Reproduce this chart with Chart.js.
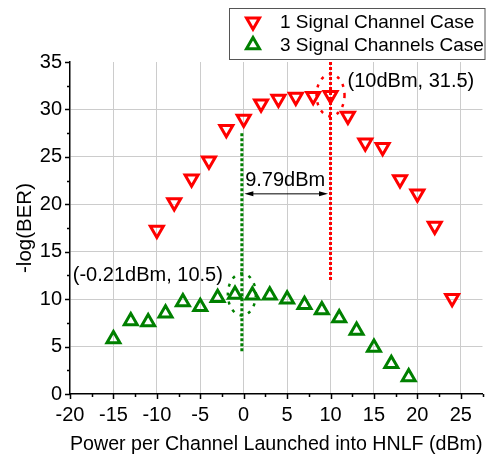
<!DOCTYPE html>
<html>
<head>
<meta charset="utf-8">
<script src="https://cdn.jsdelivr.net/npm/chart.js@4/dist/chart.umd.min.js"></script>
<style>
  html, body { margin: 0; padding: 0; background: #ffffff; }
  #wrap { width: 493px; height: 461px; }
</style>
</head>
<body>
<div id="wrap"><canvas id="ber" width="493" height="461"></canvas></div>
<script>
// Launch power per channel (dBm) and measured -log(BER)
const singlePower   = [-10, -8, -6, -4, -2, 0, 2, 4, 6, 8, 10, 12, 14, 16, 18, 20, 22, 24];
const singleLogBer  = [17.3, 20.2, 22.7, 24.6, 27.9, 29.0, 30.6, 31.1, 31.3, 31.4, 31.5, 29.3, 26.5, 26.0, 22.6, 21.1, 17.7, 10.1];
const triplePower   = [-15, -13, -11, -9, -7, -5, -3, -1, 1, 3, 5, 7, 9, 11, 13, 15, 17, 19];
const tripleLogBer  = [5.8, 7.7, 7.6, 8.5, 9.7, 9.2, 10.15, 10.5, 10.4, 10.4, 10.0, 9.4, 8.85, 8.0, 6.7, 4.9, 3.2, 1.8];
const seriesNames   = ['1 Signal Channel Case', '3 Signal Channels Case'];

// Axis ticks
const xTicks = [-20, -15, -10, -5, 0, 5, 10, 15, 20, 25];
const yTicks = [0, 5, 10, 15, 20, 25, 30, 35];
const xRange = [-20, 27.5];
const yRange = [0, 35];

// Optimum launch powers and their guide lines
const optimumPower  = [10, -0.21];
const optimumLogBer = [31.5, 10.5];
const optimumLabels = ['(10dBm, 31.5)', '(-0.21dBm, 10.5)'];
const guideTop      = [35, 27.5];
const guideBottom   = [11.8, 4.5];
const spacingLabel  = '9.79dBm';
const spacingLevel  = 21.1;

const RED = '#ff0000';
const GREEN = '#008000';
const FONT = 'Arial, "Liberation Sans", sans-serif';
const seriesColors = [RED, GREEN];
const seriesRotation = [180, 0];

function toPoints(xs, ys) {
  return xs.map((x, i) => ({ x: x, y: ys[i] }));
}

function drawTriangle(ctx, cx, cy, r, rotationDeg, color, width) {
  let rad = rotationDeg * Math.PI / 180;
  ctx.beginPath();
  for (let k = 0; k < 3; k++) {
    const px = cx + Math.sin(rad) * r;
    const py = cy - Math.cos(rad) * r;
    if (k === 0) ctx.moveTo(px, py); else ctx.lineTo(px, py);
    rad += 2 * Math.PI / 3;
  }
  ctx.closePath();
  ctx.strokeStyle = color;
  ctx.lineWidth = width;
  ctx.stroke();
}

const decorations = {
  id: 'decorations',
  beforeDatasetsDraw(chart) {
    const { ctx, scales: { x, y } } = chart;
    ctx.save();
    // dotted vertical guides at the optimum powers
    ctx.lineWidth = 3;
    ctx.setLineDash([3, 2]);
    optimumPower.forEach((p, i) => {
      const px = x.getPixelForValue(p);
      ctx.strokeStyle = seriesColors[i];
      ctx.beginPath();
      ctx.moveTo(px, y.getPixelForValue(guideTop[i]));
      ctx.lineTo(px, y.getPixelForValue(guideBottom[i]));
      ctx.stroke();
    });
    // dotted ellipses around the optimum points
    ctx.lineWidth = 2.5;
    ctx.setLineDash([3, 6]);
    optimumPower.forEach((p, i) => {
      ctx.strokeStyle = seriesColors[i];
      ctx.beginPath();
      ctx.ellipse(x.getPixelForValue(p), y.getPixelForValue(optimumLogBer[i]), 14, 21, 0, 0, Math.PI * 2);
      ctx.stroke();
    });
    ctx.restore();
  },
  afterDraw(chart) {
    const { ctx, scales: { x, y } } = chart;
    const area = chart.chartArea;
    ctx.save();

    // outward tick marks, major every 5 and minor every 2.5
    ctx.strokeStyle = '#000';
    ctx.lineWidth = 1.5;
    ctx.beginPath();
    for (let v = xRange[0]; v <= xRange[1] + 1e-9; v += 2.5) {
      const px = Math.round(x.getPixelForValue(v)) + 0.5;
      const len = (Math.abs(v % 5) < 1e-9) ? 5 : 3;
      ctx.moveTo(px, area.bottom);
      ctx.lineTo(px, area.bottom + len);
    }
    for (let v = yRange[0]; v <= yRange[1] + 1e-9; v += 2.5) {
      const py = Math.round(y.getPixelForValue(v)) + 0.5;
      const len = (Math.abs(v % 5) < 1e-9) ? 5 : 3;
      ctx.moveTo(area.left, py);
      ctx.lineTo(area.left - len, py);
    }
    ctx.stroke();

    // double-headed arrow between the two optimum powers
    const x1 = x.getPixelForValue(optimumPower[1]) + 2.5;
    const x2 = x.getPixelForValue(optimumPower[0]) - 2.5;
    const ay = y.getPixelForValue(spacingLevel);
    ctx.lineWidth = 1;
    ctx.strokeStyle = '#000';
    ctx.fillStyle = '#000';
    ctx.beginPath();
    ctx.moveTo(x1 + 6, ay);
    ctx.lineTo(x2 - 6, ay);
    ctx.stroke();
    ctx.beginPath();
    ctx.moveTo(x1, ay); ctx.lineTo(x1 + 9, ay - 2.5); ctx.lineTo(x1 + 9, ay + 2.5); ctx.closePath();
    ctx.moveTo(x2, ay); ctx.lineTo(x2 - 9, ay - 2.5); ctx.lineTo(x2 - 9, ay + 2.5); ctx.closePath();
    ctx.fill();

    // text annotations
    ctx.font = '20px ' + FONT;
    ctx.fillStyle = '#000';
    ctx.textBaseline = 'middle';
    ctx.textAlign = 'center';
    ctx.fillText(spacingLabel, (x1 + x2) / 2 - 1, ay - 13);

    const redX = x.getPixelForValue(optimumPower[0]);
    const redY = y.getPixelForValue(optimumLogBer[0]);
    ctx.textAlign = 'left';
    ctx.fillText(optimumLabels[0], redX + 17, redY - 14);

    const grnX = x.getPixelForValue(optimumPower[1]);
    const grnY = y.getPixelForValue(optimumLogBer[1]);
    ctx.textAlign = 'right';
    ctx.fillText(optimumLabels[1], grnX - 19, grnY - 19);

    // legend
    ctx.lineWidth = 1;
    ctx.strokeStyle = '#555';
    ctx.setLineDash([]);
    ctx.strokeRect(229.5, 8.5, 255.5, 51);
    const rows = [21.7, 45];
    chart.data.datasets.forEach((ds, i) => {
      drawTriangle(ctx, 253, rows[i], ds.pointRadius, ds.rotation, ds.borderColor, ds.borderWidth);
      ctx.font = '19px ' + FONT;
      ctx.fillStyle = '#000';
      ctx.textAlign = 'left';
      ctx.textBaseline = 'middle';
      ctx.fillText(ds.label, 280, rows[i] + 1);
    });
    ctx.restore();
  }
};

new Chart(document.getElementById('ber'), {
  type: 'scatter',
  data: {
    datasets: [
      {
        label: seriesNames[0],
        data: toPoints(singlePower, singleLogBer),
        pointStyle: 'triangle',
        rotation: seriesRotation[0],
        pointRadius: 7.5,
        borderWidth: 3,
        borderColor: RED,
        backgroundColor: 'rgba(0,0,0,0)'
      },
      {
        label: seriesNames[1],
        data: toPoints(triplePower, tripleLogBer),
        pointStyle: 'triangle',
        rotation: seriesRotation[1],
        pointRadius: 7.5,
        borderWidth: 3,
        borderColor: GREEN,
        backgroundColor: 'rgba(0,0,0,0)'
      }
    ]
  },
  options: {
    responsive: false,
    animation: false,
    events: [],
    layout: { padding: { top: 62, right: 8, left: 0, bottom: 0 } },
    plugins: { legend: { display: false }, tooltip: { enabled: false } },
    scales: {
      x: {
        type: 'linear',
        min: xRange[0],
        max: xRange[1],
        afterBuildTicks: s => { s.ticks = xTicks.map(v => ({ value: v })); },
        afterFit: s => { s.height = 67; },
        ticks: {
          color: '#000',
          font: { family: FONT, size: 20 },
          padding: 9,
          autoSkip: false,
          maxRotation: 0
        },
        grid: {
          color: c => (c.tick && c.tick.value === xRange[0]) ? 'rgba(0,0,0,0)' : '#cccccc',
          lineWidth: 1,
          drawTicks: false
        },
        border: { color: '#000', width: 1.5 },
        title: {
          display: true,
          text: 'Power per Channel Launched into HNLF (dBm)',
          color: '#000',
          font: { family: FONT, size: 20.5 },
          padding: { top: 0, bottom: 4 }
        }
      },
      y: {
        type: 'linear',
        min: yRange[0],
        max: yRange[1],
        afterBuildTicks: s => { s.ticks = yTicks.map(v => ({ value: v })); },
        afterFit: s => { s.width = 70; },
        ticks: {
          color: '#000',
          font: { family: FONT, size: 20 },
          padding: 8
        },
        grid: {
          color: c => (c.tick && (c.tick.value === yRange[0] || c.tick.value === yRange[1])) ? 'rgba(0,0,0,0)' : '#cccccc',
          lineWidth: 1,
          drawTicks: false
        },
        border: { color: '#000', width: 1.5 },
        title: {
          display: true,
          text: '-log(BER)',
          color: '#000',
          font: { family: FONT, size: 20.5 },
          padding: { top: 13, bottom: 0 }
        }
      }
    }
  },
  plugins: [decorations]
});
</script>
</body>
</html>
